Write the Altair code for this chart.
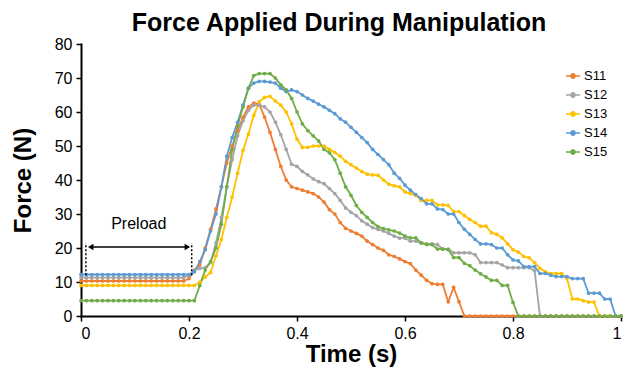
import altair as alt
import pandas as pd

# time base (s), sampled every 0.01 s
times = [round(i * 0.01, 2) for i in range(101)]

S11 = ([10.3] * 20 +
       [11, 13.5, 15, 20, 25.5, 31.5, 38, 45, 50, 54.5,
        58.5, 61.5, 62.6, 62.3, 58.5, 54, 49, 44, 40, 38,
        37.5, 37, 36.5, 36, 35, 33.5, 31.3, 30, 27.5, 25.8,
        25, 24.3, 23.5, 22, 21, 20, 19.3, 18, 17.5, 16.8,
        16, 15.4, 13.5, 12, 10.5, 9.5, 9.3, 9.3, 4.2, 8.4,
        4.2] + [0] * 30)

S12 = ([11.3] * 20 +
       [12, 13.5, 14, 14.2, 15.7, 21.5, 29, 38, 46, 53,
        57.4, 60.5, 62, 62, 61.5, 60, 57, 53.3, 49, 44.6,
        44, 42.5, 41.5, 40.3, 39.5, 38.9, 37.5, 36, 34, 31.8,
        30.5, 29.5, 28, 27, 26, 25.5, 25, 24.3, 23.5, 22.9,
        22.9, 22, 22, 21.5, 21.2, 21.2, 21, 19.7, 19.7, 18.6,
        18.6, 18.6, 18.6, 18, 15.7, 15.7, 15.7, 15.7, 15, 14.2,
        14.2, 14.2, 14.2, 14.2, 13.3] + [0] * 16)

S13 = ([9.0] * 22 +
       [10, 11.5, 12.8, 17.7, 22.5, 29, 35, 42,
        48.7, 53.5, 59, 63, 64.3, 64.6, 63.2, 62, 60, 56.5,
        52, 49.6, 49.6, 50, 50, 50, 49, 48.1, 47, 45.5,
        44.5, 43.5, 42.5, 41.7, 41.5, 41.4, 40, 38.8, 38.3, 38,
        36.5, 36, 35.5, 34, 34, 34, 32.7, 32.7, 32.5, 30.7,
        30.7, 29.5, 28.4, 27.5, 26.4, 26.4, 24.5, 24, 23, 21.2,
        19.5, 18.8, 17.5, 17.1, 15.7, 14, 13, 12.5, 12.5, 12.5,
        11, 5, 5, 4.5, 4.1, 4.1] + [0] * 5)

S14 = ([12.2] * 21 +
       [13, 16, 19.5, 25, 30, 38, 47, 52.5, 57,
        62, 67, 68.5, 69, 69, 68.8, 68.5, 67, 66, 66.5,
        66, 65, 64, 63.2, 62.3, 61.5, 60.5, 59.5, 58, 57,
        55.5, 54, 52.5, 51, 49, 47.5, 46, 44.5, 42, 40.5,
        38.5, 37, 35.7, 34.5, 33, 33, 31.5, 31.3, 30, 30,
        27.5, 25.5, 24, 22.5, 21.2, 21.2, 21, 20, 20, 18,
        16.5, 16.2, 14.5, 14.5, 14.5, 12.5, 12.5, 12, 11.6, 11.6,
        11.6, 11, 11, 11, 6.7, 6.7, 6.7, 5, 5, 0, 0])

S15 = ([4.5] * 22 +
       [9, 13.5, 16, 20, 27, 38, 49, 56,
        61.5, 67, 70.7, 71.3, 71.3, 71.3, 70, 68, 66.5, 64,
        60, 56.5, 54.5, 53, 51.5, 49, 48, 46, 42, 38,
        35.5, 32.5, 30.5, 29, 27.5, 26.3, 25.7, 25.3, 25, 24.4,
        23.5, 23, 23, 21.5, 21, 21, 19.7, 19.7, 19.5, 17.2,
        17.2, 15.5, 14.8, 13.5, 12.4, 11.5, 10.5, 10.5, 9, 9,
        4] + [0] * 20)

series_names = ["S11", "S12", "S13", "S14", "S15"]
series_values = [S11, S12, S13, S14, S15]
series_colors = ["#ED7D31", "#A5A5A5", "#FFC000", "#5B9BD5", "#70AD47"]

x_ticks = [0, 0.2, 0.4, 0.6, 0.8, 1]
y_ticks = [0, 10, 20, 30, 40, 50, 60, 70, 80]

# preload annotation (data units)
preload_x = [0.009, 0.205]
preload_y0 = 12
preload_y1 = 21.5
arrow_y = 20.3
arrow_x = [0.018, 0.197]
preload_label = "Preload"
preload_label_pos = (0.107, 24.6)

rows = []
for name, vals in zip(series_names, series_values):
    for t, v in zip(times, vals):
        rows.append({"Time": t, "Force": v, "Series": name})
df = pd.DataFrame(rows)

FONT = "Liberation Sans"

x_scale = alt.Scale(domain=[0, 1], nice=False)
y_scale = alt.Scale(domain=[0, 80], nice=False)

x_axis = alt.Axis(values=x_ticks, format="~g", title="Time (s)",
                  grid=False, domainColor="black", domainWidth=2,
                  tickColor="black", tickSize=5, tickWidth=1.5,
                  labelFontSize=16, labelColor="black", labelFont=FONT,
                  labelPadding=4, labelOverlap=False,
                  titleFontSize=24, titleFont=FONT, titleFontWeight="bold",
                  titleColor="black", titlePadding=1)
y_axis = alt.Axis(values=y_ticks, title="Force (N)",
                  grid=False, domainColor="black", domainWidth=2,
                  tickColor="black", tickSize=5, tickWidth=1.5,
                  labelFontSize=16, labelColor="black", labelFont=FONT,
                  labelPadding=4, labelOverlap=False,
                  titleFontSize=24, titleFont=FONT, titleFontWeight="bold",
                  titleColor="black", titlePadding=19)

legend_symbol = ("M-1,0L-0.3,0M0.3,0L1,0"
                 "M-0.3,0a0.3,0.3 0 1,0 0.6,0a0.3,0.3 0 1,0 -0.6,0")

lines = alt.Chart(df).mark_line(
    strokeWidth=1.8,
    point=alt.OverlayMarkDef(filled=True, size=14, opacity=1),
).encode(
    x=alt.X("Time:Q", scale=x_scale, axis=x_axis),
    y=alt.Y("Force:Q", scale=y_scale, axis=y_axis),
    color=alt.Color("Series:N",
                    scale=alt.Scale(domain=series_names, range=series_colors),
                    legend=alt.Legend(title=None, orient="none", legendX=484, legendY=24,
                                      labelFontSize=13, labelFont=FONT, labelColor="black",
                                      symbolType=legend_symbol, symbolSize=200,
                                      symbolStrokeWidth=1.6, rowPadding=4,
                                      labelOffset=3)),
    order=alt.Order("Series:N"),
)

ann_v = pd.DataFrame({"x": preload_x, "y0": [preload_y0] * 2, "y1": [preload_y1] * 2})
vlines = alt.Chart(ann_v).mark_rule(color="black", strokeDash=[2, 2], strokeWidth=1.5).encode(
    x=alt.X("x:Q", scale=x_scale, axis=x_axis),
    y=alt.Y("y0:Q", scale=y_scale, axis=y_axis), y2="y1:Q")

ann_h = pd.DataFrame({"x": [arrow_x[0]], "x2": [arrow_x[1]], "y": [arrow_y]})
hline = alt.Chart(ann_h).mark_rule(color="black", strokeWidth=1.6).encode(
    x=alt.X("x:Q", scale=x_scale, axis=x_axis), x2="x2:Q",
    y=alt.Y("y:Q", scale=y_scale, axis=y_axis))

ann_heads = pd.DataFrame({"x": arrow_x, "y": [arrow_y] * 2,
                          "shape": ["triangle-left", "triangle-right"]})
heads = alt.Chart(ann_heads).mark_point(filled=True, color="black", size=40, opacity=1).encode(
    x=alt.X("x:Q", scale=x_scale, axis=x_axis),
    y=alt.Y("y:Q", scale=y_scale, axis=y_axis),
    shape=alt.Shape("shape:N", scale=None))

ann_t = pd.DataFrame({"x": [preload_label_pos[0]], "y": [preload_label_pos[1]],
                      "t": [preload_label]})
label = alt.Chart(ann_t).mark_text(font=FONT, fontSize=16, color="black", baseline="bottom").encode(
    x=alt.X("x:Q", scale=x_scale, axis=x_axis),
    y=alt.Y("y:Q", scale=y_scale, axis=y_axis), text="t:N")

chart = alt.layer(lines, vlines, hline, heads, label).properties(
    width=540, height=272,
    autosize=alt.AutoSizeParams(type="none"),
    padding={"left": 73, "top": 36, "right": 4, "bottom": 53},
    title=alt.Title("Force Applied During Manipulation", font=FONT, fontSize=25,
                    fontWeight="bold", color="black", anchor="middle", offset=0, dx=-12),
).configure_view(stroke=None).configure_axis(domainCap="square")

chart.save("out.html", embed_options={"renderer": "svg", "actions": False})
